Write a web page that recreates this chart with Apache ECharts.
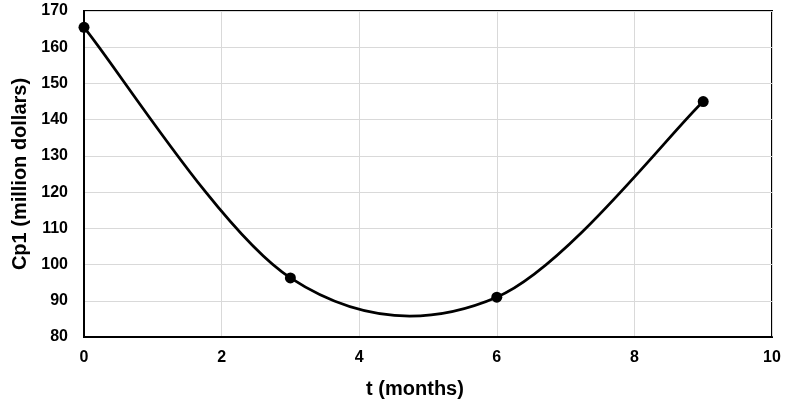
<!DOCTYPE html>
<html><head><meta charset="utf-8">
<script src="https://cdn.jsdelivr.net/npm/echarts@6/dist/echarts.min.js"></script>
<style>html,body{margin:0;padding:0;background:#fff}#c{width:785px;height:402px}</style>
</head><body><div id="c"></div>
<script>
const tValues = [0, 3, 6, 9];
const cpValues = [165.5, 96.3, 91, 145];
const xTitle = 't (months)';
const yTitle = 'Cp1 (million dollars)';

const points = tValues.map((t, i) => [t, cpValues[i]]);
const chart = echarts.init(document.getElementById('c'), null, {renderer: 'canvas'});
const font = 'Liberation Sans, Arial, sans-serif';

function renderSegment(params, api) {
  const i = params.dataIndex;
  const n = points.length;
  if (i >= n - 1) return null;
  const P = j => api.coord(points[Math.max(0, Math.min(n - 1, j))]);
  const p0 = P(i - 1), p1 = P(i), p2 = P(i + 1), p3 = P(i + 2);
  const k = 1 / 6;
  return {
    type: 'bezierCurve',
    shape: {
      x1: p1[0], y1: p1[1], x2: p2[0], y2: p2[1],
      cpx1: p1[0] + (p2[0] - p0[0]) * k, cpy1: p1[1] + (p2[1] - p0[1]) * k,
      cpx2: p2[0] - (p3[0] - p1[0]) * k, cpy2: p2[1] - (p3[1] - p1[1]) * k
    },
    style: {stroke: '#000', lineWidth: 2.75, fill: null}
  };
}

chart.setOption({
  animation: false,
  grid: {left: 84, right: 13, top: 11, bottom: 65, outerBoundsMode: 'none', containLabel: false,
         show: true, borderColor: '#000', borderWidth: 2, backgroundColor: 'transparent'},
  xAxis: {
    type: 'value', min: 0, max: 10, interval: 2,
    name: xTitle, nameLocation: 'middle', nameGap: 42,
    nameTextStyle: {fontFamily: font, fontWeight: 'bold', fontSize: 20, color: '#000', padding: [0, 26, 0, 0]},
    axisLine: {show: true, lineStyle: {color: '#000', width: 2}},
    axisTick: {show: false},
    axisLabel: {fontFamily: font, fontWeight: 'bold', fontSize: 16, color: '#000', margin: 13},
    splitLine: {show: true, lineStyle: {color: '#d9d9d9', width: 1}}
  },
  yAxis: {
    type: 'value', min: 80, max: 170, interval: 10,
    name: yTitle, nameLocation: 'middle', nameGap: 50, nameRotate: 90,
    nameTextStyle: {fontFamily: font, fontWeight: 'bold', fontSize: 20, color: '#000'},
    axisLine: {show: true, lineStyle: {color: '#000', width: 2}},
    axisTick: {show: false},
    axisLabel: {fontFamily: font, fontWeight: 'bold', fontSize: 16, color: '#000', margin: 16},
    splitLine: {show: true, lineStyle: {color: '#d9d9d9', width: 1}}
  },
  series: [{
    type: 'custom',
    data: points,
    encode: {x: 0, y: 1},
    renderItem: renderSegment,
    clip: false,
    z: 2
  }, {
    type: 'scatter',
    data: points,
    symbol: 'circle', symbolSize: 11,
    itemStyle: {color: '#000', opacity: 1},
    z: 3
  }]
});
</script></body></html>
